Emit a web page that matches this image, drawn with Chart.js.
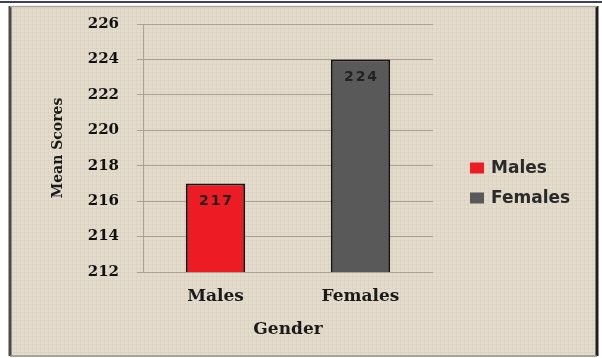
<!DOCTYPE html>
<html>
<head>
<meta charset="utf-8">
<script src="https://cdn.jsdelivr.net/npm/chart.js@4/dist/chart.umd.min.js"></script>
<style>
  html, body { margin: 0; padding: 0; background: #ffffff; }
  #wrap { width: 602px; height: 358px; position: relative; }
</style>
</head>
<body>
<div id="wrap"><canvas id="c" width="602" height="358"></canvas></div>
<script>
// ---- data ----
const categories = ['Males', 'Females'];
const meanScores = [217, 224];
const barColors = ['#ed1c24', '#595959'];
const yTicks = [212, 214, 216, 218, 220, 222, 224, 226];
const yAxisTitle = 'Mean Scores';
const xAxisTitle = 'Gender';

// ---- frame / background ----
const framePlugin = {
  id: 'frame',
  beforeDraw(chart) {
    const ctx = chart.ctx;
    ctx.save();
    ctx.fillStyle = '#ffffff';
    ctx.fillRect(0, 0, chart.width, chart.height);
    // top navy rule
    ctx.fillStyle = '#3c3c70';
    ctx.fillRect(0, 1, chart.width, 2);
    // beige panel
    ctx.fillStyle = '#e3dbcc';
    ctx.fillRect(10, 6, 587, 349);
    // faint linen weave
    ctx.fillStyle = 'rgba(150,135,110,0.07)';
    for (let x = 12; x < 596; x += 4) ctx.fillRect(x, 7, 1, 347);
    for (let y = 8; y < 354; y += 4) ctx.fillRect(11, y, 585, 1);
    // panel border
    ctx.strokeStyle = '#4a4a4a';
    ctx.lineWidth = 3;
    ctx.beginPath(); ctx.moveTo(10, 6); ctx.lineTo(10, 356); ctx.stroke();
    ctx.strokeStyle = '#1e1e1e';
    ctx.beginPath(); ctx.moveTo(597, 6); ctx.lineTo(597, 356); ctx.stroke();
    ctx.lineWidth = 1.5;
    ctx.strokeStyle = '#8a8478';
    ctx.beginPath(); ctx.moveTo(10, 356); ctx.lineTo(597, 356); ctx.stroke();
    ctx.strokeStyle = '#b0a898';
    ctx.beginPath(); ctx.moveTo(10, 6.5); ctx.lineTo(597, 6.5); ctx.stroke();
    ctx.restore();
  }
};

// ---- value labels inside bars ----
const valueLabelPlugin = {
  id: 'valueLabels',
  afterDatasetsDraw(chart) {
    const ctx = chart.ctx;
    const meta = chart.getDatasetMeta(0);
    const ds = chart.data.datasets[0];
    ctx.save();
    ctx.font = 'bold 14px "DejaVu Sans"';
    ctx.textAlign = 'center';
    ctx.textBaseline = 'middle';
    if ('letterSpacing' in ctx) ctx.letterSpacing = '2px';
    ctx.fillStyle = '#222222';
    meta.data.forEach((bar, i) => {
      ctx.fillText(String(ds.data[i]), bar.x + 1, bar.y + 18);
    });
    ctx.restore();
  }
};

// ---- legend on the right ----
const sideLegendPlugin = {
  id: 'sideLegend',
  afterDraw(chart) {
    const ctx = chart.ctx;
    const ds = chart.data.datasets[0];
    const x0 = 470, y0 = 168, step = 30;
    ctx.save();
    ctx.font = 'bold 17px "DejaVu Sans"';
    ctx.textAlign = 'left';
    ctx.textBaseline = 'middle';
    chart.data.labels.forEach((lab, i) => {
      const y = y0 + i * step;
      ctx.fillStyle = ds.backgroundColor[i];
      ctx.fillRect(x0, y - 5.5, 14, 11);
      ctx.fillStyle = '#2a2a2a';
      ctx.fillText(lab, x0 + 21, y + 1);
    });
    ctx.restore();
  }
};

const gridColor = '#a9a194';

new Chart(document.getElementById('c'), {
  type: 'bar',
  data: {
    labels: categories,
    datasets: [{
      label: 'Mean Scores',
      data: meanScores,
      backgroundColor: barColors,
      borderColor: '#151515',
      borderWidth: 2,
      barPercentage: 0.41,
      categoryPercentage: 1.0
    }]
  },
  options: {
    responsive: false,
    animation: false,
    devicePixelRatio: 1,
    layout: { padding: { left: 0, right: 169, top: 24, bottom: 0 } },
    plugins: {
      legend: { display: false },
      tooltip: { enabled: false }
    },
    scales: {
      x: {
        grid: { display: false, drawTicks: false },
        border: { display: false },
        ticks: {
          padding: 14,
          color: '#1a1a1a',
          font: { family: '"DejaVu Serif"', weight: 'bold', size: 17 }
        },
        title: {
          display: true,
          text: xAxisTitle,
          color: '#1a1a1a',
          font: { family: '"DejaVu Serif"', weight: 'bold', size: 17 },
          padding: { top: 0, bottom: 18 }
        },
        afterFit(s) { s.height = 86; }
      },
      y: {
        min: yTicks[0],
        max: yTicks[yTicks.length - 1],
        afterBuildTicks(s) { s.ticks = yTicks.map(v => ({ value: v })); },
        grid: { color: gridColor, lineWidth: 1, tickLength: 6, drawTicks: true },
        border: { display: true, color: gridColor, width: 1 },
        ticks: {
          padding: 18,
          color: '#111111',
          font: { family: '"DejaVu Serif"', weight: 'bold', size: 15 }
        },
        title: {
          display: true,
          text: yAxisTitle,
          color: '#1a1a1a',
          font: { family: '"DejaVu Serif"', weight: 'bold', size: 14 },
          padding: { top: 50, bottom: 0 }
        },
        afterFit(s) { s.width = 143; s.paddingTop = 0; s.paddingBottom = 0; }
      }
    }
  },
  plugins: [framePlugin, valueLabelPlugin, sideLegendPlugin]
});
</script>
</body>
</html>
